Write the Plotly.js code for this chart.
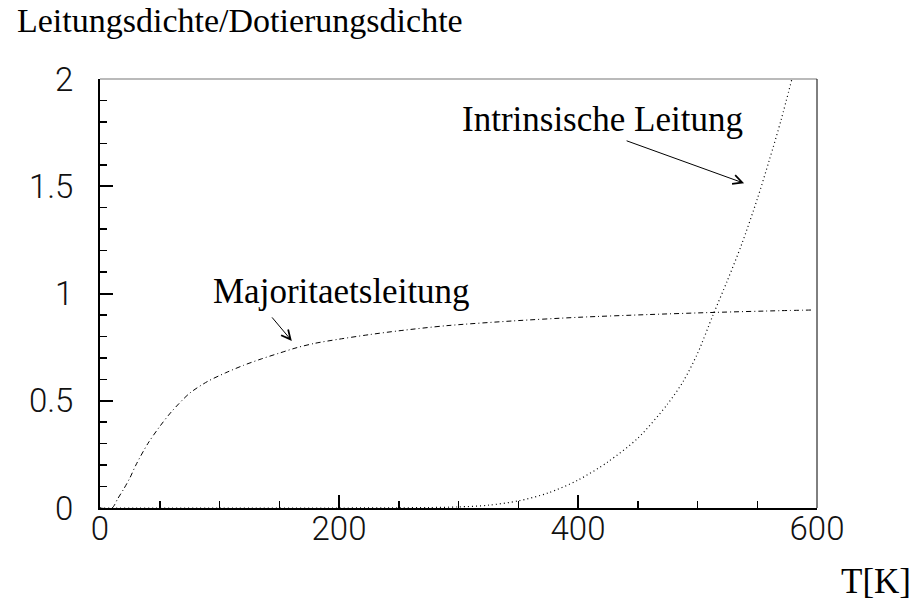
<!DOCTYPE html>
<html>
<head>
<meta charset="utf-8">
<script src="https://cdn.plot.ly/plotly-3.0.1.min.js"></script>
<style>
  html, body { margin: 0; padding: 0; background: #fff; }
  #chart { width: 911px; height: 601px; }
</style>
</head>
<body>
<div id="chart"></div>
<script>
// Temperature axis (K)
const tickValsX = [0, 200, 400, 600];
const tickValsY = [0, 0.5, 1, 1.5, 2];

// Majority-carrier (extrinsic) conduction, normalised to doping density
const majorityT = [0, 10, 15, 20, 25, 30, 40, 50, 60, 75, 90, 105, 120, 135, 150, 165, 180, 200, 225, 250, 290, 345, 400, 460, 515, 570, 596];
const majorityN = [0, 0, 0.045, 0.09, 0.14, 0.2, 0.3, 0.38, 0.45, 0.535, 0.59, 0.63, 0.665, 0.695, 0.722, 0.748, 0.768, 0.787, 0.808, 0.826, 0.85, 0.872, 0.889, 0.902, 0.912, 0.92, 0.923];

// Intrinsic conduction, normalised to doping density
const intrinsicT = [0, 100, 200, 250, 275, 300, 325, 350, 375, 400, 425, 450, 475, 488, 500, 513, 525, 537, 550, 560, 570, 579];
const intrinsicN = [0, 0, 0, 0.001, 0.002, 0.005, 0.013, 0.033, 0.07, 0.13, 0.215, 0.325, 0.485, 0.59, 0.72, 0.9, 1.06, 1.23, 1.44, 1.62, 1.81, 2.0];

const serif = 'Liberation Serif, Times New Roman, serif';
const tickFont = { family: 'Roboto, "DejaVu Sans", sans-serif', size: 33, color: '#111', weight: 300 };

const traces = [
  {
    x: majorityT, y: majorityN, type: 'scatter', mode: 'lines',
    name: 'Majoritaetsleitung',
    line: { color: '#000', width: 1, dash: '5px,3px,1px,3px', shape: 'spline', smoothing: 0.8 },
    hoverinfo: 'skip'
  },
  {
    x: intrinsicT, y: intrinsicN, type: 'scatter', mode: 'lines',
    name: 'Intrinsische Leitung',
    line: { color: '#000', width: 1.2, dash: '1px,3px', shape: 'spline', smoothing: 0.8 },
    hoverinfo: 'skip'
  }
];

const layout = {
  width: 911, height: 601,
  margin: { l: 100, r: 94, t: 79, b: 93 },
  paper_bgcolor: '#fff', plot_bgcolor: '#fff',
  showlegend: false,
  title: {
    text: 'Leitungsdichte/Dotierungsdichte',
    font: { family: serif, size: 34, color: '#000' },
    xref: 'container', yref: 'container',
    x: 17 / 911, xanchor: 'left',
    y: 1 - 20 / 601, yanchor: 'middle'
  },
  xaxis: {
    range: [0, 600], tickvals: tickValsX, ticktext: tickValsX.map(String),
    showgrid: false, zeroline: false,
    showline: true, linecolor: '#000', linewidth: 2,
    ticks: 'inside', ticklen: 13, tickwidth: 2, tickcolor: '#000',
    minor: { dtick: 50, ticks: 'inside', ticklen: 7, tickwidth: 1.5, tickcolor: '#000', showgrid: false },
    tickfont: tickFont, ticklabelstandoff: -10
  },
  yaxis: {
    range: [0, 2], tickvals: tickValsY, ticktext: ['0', '0.5', '1', '1.5', '2'],
    showgrid: false, zeroline: false,
    showline: true, linecolor: '#000', linewidth: 2,
    ticks: 'inside', ticklen: 13, tickwidth: 2, tickcolor: '#000',
    minor: { dtick: 0.1, ticks: 'inside', ticklen: 7, tickwidth: 1.5, tickcolor: '#000', showgrid: false },
    tickfont: tickFont, ticklabelstandoff: 18
  },
  shapes: [
    // top and right frame
    { type: 'line', xref: 'paper', yref: 'paper', x0: 0, x1: 1, y0: 1, y1: 1, line: { color: '#777', width: 1.2 } },
    { type: 'line', xref: 'paper', yref: 'paper', x0: 1, x1: 1, y0: 0, y1: 1, line: { color: '#000', width: 1 } }
  ],
  annotations: [
    { text: 'Majoritaetsleitung', x: 202, y: 1.01, xref: 'x', yref: 'y', showarrow: false,
      xanchor: 'center', yanchor: 'middle', font: { family: serif, size: 35, color: '#000' } },
    { text: '', x: 160.5, y: 0.779, xref: 'x', yref: 'y', showarrow: true,
      ax: -21, ay: -25, arrowhead: 5, arrowsize: 1.8, arrowwidth: 1, arrowcolor: '#000' },
    { text: 'Intrinsische Leitung', x: 420.7, y: 1.81, xref: 'x', yref: 'y', showarrow: false,
      xanchor: 'center', yanchor: 'middle', font: { family: serif, size: 35, color: '#000' } },
    { text: '', x: 539, y: 1.514, xref: 'x', yref: 'y', showarrow: true,
      ax: -119, ay: -43, arrowhead: 5, arrowsize: 1.8, arrowwidth: 1, arrowcolor: '#000' },
    { text: 'T[K]', x: (875.5 - 100) / 717, y: (508 - 581) / 429, xref: 'paper', yref: 'paper',
      showarrow: false, xanchor: 'center', yanchor: 'middle', font: { family: serif, size: 35, color: '#000' } }
  ]
};

Plotly.newPlot('chart', traces, layout, { staticPlot: true, displayModeBar: false });
</script>
</body>
</html>
